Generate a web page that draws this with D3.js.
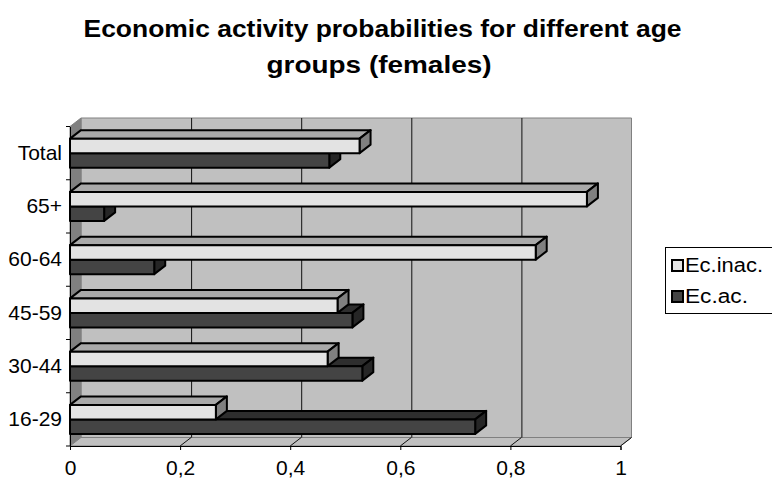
<!DOCTYPE html>
<html>
<head>
<meta charset="utf-8">
<script src="https://cdn.jsdelivr.net/npm/d3@7"></script>
<style>
html,body{margin:0;padding:0;background:#fff;}
svg{display:block;font-family:"Liberation Sans",Arial,sans-serif;}
</style>
</head>
<body>
<svg id="chart" width="772" height="479"></svg>
<script>
const categories = ["Total", "65+", "60-64", "45-59", "30-44", "16-29"];
const seriesNames = ["Ec.inac.", "Ec.ac."];
const ecInac = [0.526, 0.939, 0.846, 0.486, 0.468, 0.265];
const ecAc = [0.471, 0.062, 0.153, 0.513, 0.531, 0.736];
const xTicks = [0, 0.2, 0.4, 0.6, 0.8, 1];
const xTickLabels = ["0", "0,2", "0,4", "0,6", "0,8", "1"];
const titleLines = ["Economic activity probabilities for different age", "groups (females)"];

const svg = d3.select("#chart");
const DX = 11, DY = 8.5;
const front = {left: 70, right: 620.5, top: 126.5, bottom: 446};

const x = d3.scaleLinear().domain([0, 1]).range([front.left, front.right]);
const y = d3.scaleBand().domain(categories).range([front.top, front.bottom]).paddingInner(0).paddingOuter(0);
const pairH = 29;

const colors = {
  "Ec.inac.": {front: "#e3e3e3", top: "#a9a9a9", side: "#808080"},
  "Ec.ac.": {front: "#444444", top: "#2e2e2e", side: "#262626"}
};

// Title
const titleWidths = [598, 225];
const titleCx = [382.5, 379];
svg.append("g").selectAll("text").data(titleLines).join("text")
  .attr("x", (d, i) => titleCx[i]).attr("y", (d, i) => 37 + i * 35.5)
  .attr("text-anchor", "middle")
  .attr("font-size", 24).attr("font-weight", "bold").attr("fill", "#000")
  .attr("textLength", (d, i) => titleWidths[i]).attr("lengthAdjust", "spacingAndGlyphs")
  .text(d => d);

const pts = a => a.map(p => p.join(",")).join(" ");

// Walls
const g = svg.append("g");
g.append("polygon")
  .attr("points", pts([[front.left + DX, front.top - DY], [front.right + DX, front.top - DY], [front.right + DX, front.bottom - DY], [front.left + DX, front.bottom - DY]]))
  .attr("fill", "#c0c0c0").attr("stroke", "#808080").attr("stroke-width", 1);
g.append("polygon")
  .attr("points", pts([[front.left, front.top], [front.left + DX, front.top - DY], [front.left + DX, front.bottom - DY], [front.left, front.bottom]]))
  .attr("fill", "#808080").attr("stroke", "#808080").attr("stroke-width", 1);
g.append("polygon")
  .attr("points", pts([[front.left, front.bottom], [front.left + DX, front.bottom - DY], [front.right + DX, front.bottom - DY], [front.right, front.bottom]]))
  .attr("fill", "#c0c0c0").attr("stroke", "#808080").attr("stroke-width", 1);

const inner = xTicks.filter(t => t > 0 && t < 1);
g.selectAll(".grid").data(inner).join("line")
  .attr("x1", d => x(d) + DX + 0.5).attr("x2", d => x(d) + DX + 0.5)
  .attr("y1", front.top - DY).attr("y2", front.bottom - DY)
  .attr("stroke", "#111").attr("stroke-width", 1);
g.selectAll(".fgrid").data(xTicks.filter(t => t > 0)).join("line")
  .attr("x1", d => x(d)).attr("x2", d => x(d) + DX)
  .attr("y1", front.bottom).attr("y2", front.bottom - DY)
  .attr("stroke", "#111").attr("stroke-width", 1);

// Axes
const xAxis = d3.axisBottom(x).tickValues(xTicks).tickFormat((d, i) => xTickLabels[i]).tickSize(4).tickPadding(10);
const xg = svg.append("g").attr("transform", `translate(0,${front.bottom})`).call(xAxis);
xg.select(".domain").attr("stroke", "#000");
xg.selectAll(".tick line").attr("stroke", "#000");
xg.selectAll("text").attr("font-size", 21).attr("font-family", "'Liberation Sans',Arial,sans-serif").attr("fill", "#000");

const yAxis = d3.axisLeft(y).tickSize(0).tickPadding(8);
const yg = svg.append("g").attr("transform", `translate(${front.left},0)`).call(yAxis);
yg.select(".domain").attr("stroke", "#000");
yg.selectAll("text").attr("font-size", 21).attr("font-family", "'Liberation Sans',Arial,sans-serif").attr("fill", "#000");
const bounds = categories.map(c => y(c)).concat([front.bottom]);
yg.selectAll(".btick").data(bounds).join("line")
  .attr("x1", -4).attr("x2", 0).attr("y1", d => d).attr("y2", d => d)
  .attr("stroke", "#000");

// Bars
const barsG = svg.append("g");
categories.forEach((c, i) => {
  const cy = y(c) + y.bandwidth() / 2;
  const sub = d3.scaleBand().domain(seriesNames).range([cy - pairH / 2, cy + pairH / 2]);
  const vals = {"Ec.inac.": ecInac[i], "Ec.ac.": ecAc[i]};
  ["Ec.ac.", "Ec.inac."].forEach(s => {
    const x0 = x(0), x1 = x(vals[s]);
    const y0 = sub(s), y1 = sub(s) + sub.bandwidth();
    const col = colors[s];
    const bg = barsG.append("g").attr("stroke", "#000").attr("stroke-width", 2).attr("stroke-linejoin", "round");
    bg.append("polygon").attr("points", pts([[x0, y0], [x1, y0], [x1 + DX, y0 - DY], [x0 + DX, y0 - DY]])).attr("fill", col.top);
    bg.append("polygon").attr("points", pts([[x1, y0], [x1 + DX, y0 - DY], [x1 + DX, y1 - DY], [x1, y1]])).attr("fill", col.side);
    bg.append("rect").attr("x", x0).attr("y", y0).attr("width", x1 - x0).attr("height", y1 - y0).attr("fill", col.front);
  });
});

// Legend
const legendWidths = [78, 63];
const lg = svg.append("g");
lg.append("rect").attr("x", 665.5).attr("y", 247.5).attr("width", 110).attr("height", 66)
  .attr("fill", "#fff").attr("stroke", "#000").attr("stroke-width", 1);
seriesNames.forEach((s, i) => {
  const yy = 260 + i * 31;
  lg.append("rect").attr("x", 672).attr("y", yy).attr("width", 11).attr("height", 11)
    .attr("fill", colors[s].front).attr("stroke", "#000").attr("stroke-width", 2);
  lg.append("text").attr("x", 685).attr("y", yy + 12).attr("font-size", 20).attr("fill", "#000")
    .attr("textLength", legendWidths[i]).attr("lengthAdjust", "spacingAndGlyphs").text(s);
});
</script>
</body>
</html>
